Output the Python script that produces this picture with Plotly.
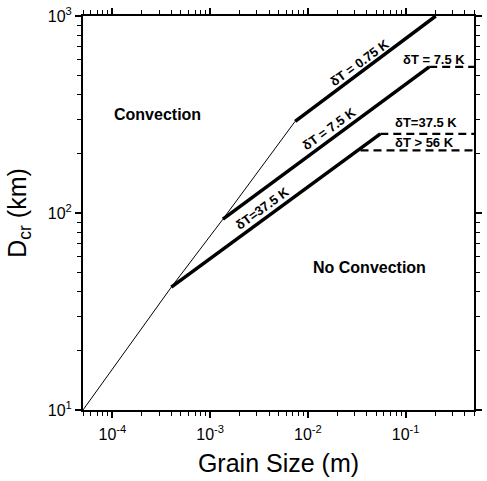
import math
import plotly.graph_objects as go

# ---- data ----
thin_grain = [5e-5, 4.0e-4, 1.35e-3, 7.4e-3]
thin_dcr = [10, 42, 93, 292]

dt075_grain = [7.4e-3, 0.203]
dt075_dcr = [292, 1000]

dt75_grain = [1.35e-3, 0.174]
dt75_dcr = [93, 552]
dt75_dash_grain = [0.174, 0.5]
dt75_dash_dcr = [552, 552]

dt375_grain = [4.0e-4, 0.055]
dt375_dcr = [42, 252]
dt375_dash_grain = [0.055, 0.5]
dt375_dash_dcr = [252, 252]

dt56_dash_grain = [0.0345, 0.5]
dt56_dash_dcr = [208, 208]

x_range = [5e-5, 0.5]
y_range = [10, 1000]

x_tick_exp = [-4, -3, -2, -1]
y_tick_exp = [1, 2, 3]

FONT = "Liberation Sans, Arial, Helvetica, sans-serif"

fig = go.Figure()

def add_line(x, y, width, dash="solid"):
    fig.add_trace(go.Scatter(x=x, y=y, mode="lines",
                             line=dict(color="black", width=width, dash=dash),
                             showlegend=False, hoverinfo="skip", cliponaxis=False))

add_line(thin_grain, thin_dcr, 1)
add_line(dt075_grain, dt075_dcr, 3.5)
add_line(dt75_grain, dt75_dcr, 3.5)
add_line(dt375_grain, dt375_dcr, 3.5)
add_line(dt75_dash_grain, dt75_dash_dcr, 2.2, "8px,5px")
add_line(dt375_dash_grain, dt375_dash_dcr, 2.2, "8px,5px")
add_line(dt56_dash_grain, dt56_dash_dcr, 2.2, "8px,5px")

def ann(text, x, y, size=13, angle=0, bold=True):
    fig.add_annotation(text=f"<b>{text}</b>" if bold else text,
                       x=math.log10(x), y=math.log10(y), xref="x", yref="y",
                       showarrow=False, textangle=angle,
                       font=dict(family=FONT, size=size, color="black"))

ann("δT = 0.75 K", 0.034, 579, angle=-36)
ann("δT = 7.5 K", 0.0166, 268, angle=-36)
ann("δT=37.5 K", 0.00338, 106, angle=-36)
ann("δT = 7.5 K", 0.197, 600)
ann("δT=37.5 K", 0.16, 288)
ann("δT > 56 K", 0.156, 228)
ann("Convection", 2.9e-4, 316, size=16)
ann("No Convection", 0.0428, 53, size=16)

def minor_vals(lo_exp, hi_exp):
    return [d * 10.0 ** e for e in range(lo_exp, hi_exp + 1) for d in range(2, 10)]

def axis_common(tick_exp, minors):
    return dict(
        type="log",
        showline=True, linecolor="black", linewidth=2,
        mirror="allticks",
        ticks="outside", ticklen=6, tickwidth=1.5, tickcolor="black",
        showgrid=False, zeroline=False,
        tickmode="array",
        tickvals=[10.0 ** e for e in tick_exp],
        ticktext=[f"10<sup>{e}</sup>" for e in tick_exp],
        tickfont=dict(family=FONT, size=16, color="black"),
        minor=dict(ticks="outside", ticklen=4, tickwidth=1.3, tickcolor="black",
                   tickmode="array", tickvals=minors, showgrid=False),
    )

fig.update_xaxes(**axis_common(x_tick_exp, minor_vals(-5, -1)),
                 range=[math.log10(x_range[0]), math.log10(x_range[1])],
                 ticklabelstandoff=3,
                 title=dict(text="Grain Size (m)", standoff=12,
                            font=dict(family=FONT, size=25, color="black")))
fig.update_yaxes(**axis_common(y_tick_exp, minor_vals(1, 2)),
                 range=[math.log10(y_range[0]) - 1e-4, math.log10(y_range[1]) + 1e-4],
                 title=dict(text="D<sub>cr</sub> (km)", standoff=14,
                            font=dict(family=FONT, size=25, color="black")))

fig.update_layout(width=487, height=481,
                  margin=dict(l=83, r=5, t=14, b=71),
                  plot_bgcolor="white", paper_bgcolor="white",
                  showlegend=False)

fig.write_html("out.html")
